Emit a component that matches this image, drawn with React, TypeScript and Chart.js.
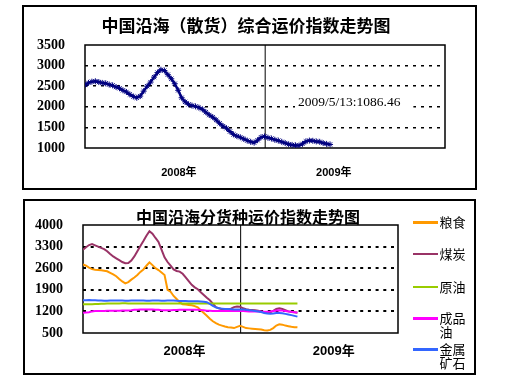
import React, { useEffect, useRef } from "react";
import { Chart, registerables } from "chart.js";

Chart.register(...registerables);

// ---------- text ----------
const compositeTitle = "中国沿海（散货）综合运价指数走势图";
const cargoTitle = "中国沿海分货种运价指数走势图";
const yearLabels = ["2008年", "2009年"];
const annotationText = "2009/5/13:1086.46";
const compositeName = "综合运价指数";
const seriesNames = ["粮食", "煤炭", "原油", "成品油", "金属矿石"];
const legendLines = [["粮食"], ["煤炭"], ["原油"], ["成品", "油"], ["金属", "矿石"]];

// ---------- axes (weeks since start of 2008) ----------
const weekSpan = 104.3;
const yearDividerWeek = 52.2;
const compositeYearTickWeeks = [27.2, 72.1];
const cargoYearTickWeeks = [33.6, 83.0];
const compositeYTicks = [1000, 1500, 2000, 2500, 3000, 3500];
const cargoYTicks = [500, 1200, 1900, 2600, 3300, 4000];

// ---------- weekly values ----------
const compositeIndex = [
  2530, 2580, 2610, 2620, 2600, 2580, 2570, 2540, 2520, 2480,
  2450, 2400, 2360, 2300, 2250, 2220, 2260, 2380, 2500, 2600,
  2720, 2830, 2900, 2880, 2780, 2680, 2560, 2400, 2220, 2120,
  2060, 2030, 2010, 1980, 1940, 1870, 1800, 1750, 1680, 1600,
  1530, 1480, 1400, 1330, 1290, 1260, 1220, 1180, 1150, 1130,
  1190, 1260, 1280, 1250, 1230, 1200, 1180, 1150, 1120, 1090,
  1075, 1065, 1060, 1100, 1160, 1180, 1175, 1160, 1150, 1120,
  1100, 1086,
];

const grain = [
  2720, 2680, 2620, 2570, 2550, 2540, 2530, 2520, 2500, 2450,
  2400, 2340, 2250, 2170, 2110, 2150, 2230, 2300, 2380, 2480,
  2560, 2680, 2790, 2700, 2600, 2540, 2460, 2380, 1900, 1840,
  1700, 1600, 1500, 1430, 1420, 1410, 1400, 1370, 1330, 1240,
  1150, 1060, 960, 880, 820, 770, 740, 710, 690, 680,
  660, 700, 730, 700, 660, 650, 640, 630, 620, 610,
  590, 580, 600, 660, 740, 780, 770, 740, 720, 700,
  690, 685,
];

const coal = [
  3200, 3280, 3350, 3380, 3340, 3300, 3260, 3220, 3150, 3060,
  2980, 2920, 2860, 2800, 2760, 2770, 2850, 2980, 3150, 3320,
  3480, 3650, 3800, 3720, 3580, 3450, 3200, 2950, 2800, 2680,
  2560, 2510, 2490, 2420, 2300, 2180, 2060, 1980, 1920, 1820,
  1730, 1640, 1560, 1450, 1340, 1300, 1270, 1265, 1260, 1290,
  1340, 1360, 1350, 1300, 1270, 1255, 1245, 1235, 1220, 1190,
  1170, 1160, 1170, 1220, 1280, 1300, 1280, 1240, 1200, 1180,
  1170, 1160,
];

const crudeOil = [
  1430, 1430, 1435, 1435, 1440, 1440, 1445, 1450, 1455, 1460,
  1460, 1460, 1460, 1465, 1465, 1460, 1460, 1460, 1460, 1460,
  1460, 1460, 1460, 1460, 1460, 1460, 1460, 1460, 1460, 1460,
  1460, 1460, 1460, 1460, 1460, 1460, 1460, 1460, 1460, 1460,
  1460, 1460, 1460, 1460, 1460, 1460, 1460, 1460, 1460, 1460,
  1460, 1460, 1460, 1460, 1460, 1460, 1460, 1460, 1460, 1460,
  1460, 1460, 1460, 1460, 1460, 1460, 1460, 1460, 1460, 1460,
  1460, 1460,
];

const refinedOil = [
  1160, 1165, 1170, 1200, 1210, 1215, 1215, 1215, 1220, 1220,
  1225, 1225, 1225, 1230, 1230, 1230, 1235, 1250, 1255, 1260,
  1260, 1260, 1260, 1260, 1255, 1250, 1240, 1240, 1240, 1240,
  1245, 1245, 1250, 1250, 1250, 1250, 1250, 1250, 1250, 1245,
  1235, 1225, 1220, 1215, 1215, 1215, 1215, 1215, 1215, 1215,
  1215, 1215, 1215, 1210, 1205, 1200, 1200, 1195, 1195, 1195,
  1190, 1190, 1195, 1210, 1230, 1240, 1225, 1210, 1200, 1190,
  1175, 1165,
];

const metalOre = [
  1560, 1565, 1570, 1565, 1560, 1555, 1550, 1545, 1545, 1550,
  1555, 1555, 1550, 1550, 1545, 1545, 1550, 1555, 1555, 1550,
  1550, 1545, 1545, 1550, 1555, 1550, 1545, 1545, 1550, 1555,
  1550, 1545, 1540, 1540, 1535, 1530, 1530, 1525, 1525, 1520,
  1515, 1500, 1440, 1380, 1330, 1300, 1290, 1280, 1275, 1270,
  1265, 1265, 1265, 1260, 1250, 1240, 1230, 1215, 1200, 1180,
  1150, 1130, 1120, 1130, 1145, 1150, 1140, 1120, 1100, 1080,
  1055, 1030,
];

const cargoSeries = [grain, coal, crudeOil, refinedOil, metalOre];
const seriesColors = ["#FF9900", "#993366", "#99CC00", "#FF00FF", "#3366FF"];
const compositeColor = "#000080";

// ---------- helpers ----------
const toPoints = (values: number[]) => values.map((v, i) => ({ x: i, y: v }));

const plotFrame = {
  id: "plotFrame",
  beforeDatasetsDraw(chart: any) {
    const { ctx, chartArea: a } = chart;
    ctx.save();
    ctx.strokeStyle = "#000";
    ctx.lineWidth = 1.5;
    ctx.strokeRect(a.left, a.top, a.right - a.left, a.bottom - a.top);
    ctx.restore();
  },
};

const dateLabel = {
  id: "dateLabel",
  afterDatasetsDraw(chart: any) {
    const { ctx, chartArea: a } = chart;
    ctx.save();
    ctx.font = '13.5px "Liberation Serif", serif';
    const w = ctx.measureText(annotationText).width;
    const x = a.left + 213;
    const y = a.top + 57;
    ctx.fillStyle = "#fff";
    ctx.fillRect(x - 3, y - 9, w + 16, 18);
    ctx.fillStyle = "#000";
    ctx.textBaseline = "middle";
    ctx.fillText(annotationText, x, y);
    ctx.restore();
  },
};

function yAxis(ticksArr: number[], width: number, dash: number[], lineWidth: number) {
  return {
    type: "linear",
    min: ticksArr[0],
    max: ticksArr[ticksArr.length - 1],
    afterBuildTicks: (s: any) => {
      s.ticks = ticksArr.map((v) => ({ value: v }));
    },
    afterFit: (s: any) => {
      s.width = width;
    },
    ticks: {
      padding: 20,
      color: "#000",
      font: { family: '"Liberation Serif", serif', size: 14, weight: "bold" },
      callback: (v: any) => String(v),
    },
    grid: {
      drawTicks: false,
      lineWidth,
      color: (c: any) =>
        c.tick && (c.tick.value === ticksArr[0] || c.tick.value === ticksArr[ticksArr.length - 1])
          ? "rgba(0,0,0,0)"
          : "#000",
    },
    border: { display: false, dash },
  };
}

function spacer(width: number) {
  return {
    type: "linear",
    position: "right",
    display: true,
    grid: { display: false, drawTicks: false },
    ticks: { display: false },
    border: { display: false },
    afterFit: (s: any) => {
      s.width = width;
    },
  };
}

function xAxis(tickWeeks: number[], height: number, pad: number, fontSize: number) {
  return {
    type: "linear",
    min: 0,
    max: weekSpan,
    afterBuildTicks: (s: any) => {
      s.ticks = tickWeeks.map((v) => ({ value: v }));
    },
    afterFit: (s: any) => {
      s.height = height;
    },
    ticks: {
      padding: pad,
      autoSkip: false,
      maxRotation: 0,
      color: "#000",
      font: { family: '"Liberation Sans", "Noto Sans CJK SC", sans-serif', size: fontSize, weight: "bold" },
      callback: (_v: any, i: number) => yearLabels[i],
    },
    grid: { display: false, drawTicks: false },
    border: { display: false },
  };
}

const legendY = [222, 253.5, 286.5, 318, 349];

export default function App() {
  const topRef = useRef<HTMLCanvasElement>(null);
  const bottomRef = useRef<HTMLCanvasElement>(null);

  useEffect(() => {
    const top = new Chart(topRef.current as HTMLCanvasElement, {
      type: "line",
      data: {
        datasets: [
          {
            label: compositeName,
            data: toPoints(compositeIndex),
            borderColor: compositeColor,
            backgroundColor: compositeColor,
            borderWidth: 2.5,
            pointStyle: "star",
            pointRadius: 3,
            pointBorderWidth: 1,
            pointBorderColor: compositeColor,
            tension: 0,
            order: 1,
          },
          {
            label: "divider",
            data: [
              { x: yearDividerWeek, y: compositeYTicks[0] },
              { x: yearDividerWeek, y: compositeYTicks[compositeYTicks.length - 1] },
            ],
            borderColor: "#000",
            borderWidth: 1,
            pointRadius: 0,
            order: 10,
          },
        ],
      } as any,
      options: {
        responsive: false,
        animation: false,
        layout: { padding: { left: 0, right: 20, top: 0, bottom: 0 } },
        plugins: {
          legend: { display: false },
          tooltip: { enabled: false },
          title: {
            display: true,
            text: compositeTitle,
            color: "#000",
            font: { family: '"Noto Sans CJK SC", sans-serif', size: 17, weight: "bold", lineHeight: 1.2 },
            padding: { top: 15.6, bottom: 9 },
          },
        },
        scales: {
          x: xAxis(compositeYearTickWeeks, 44, 18, 11),
          y: yAxis(compositeYTicks, 85, [3, 5], 1.5),
          rightSpace: spacer(47),
        },
      } as any,
      plugins: [plotFrame, dateLabel],
    });

    const bottom = new Chart(bottomRef.current as HTMLCanvasElement, {
      type: "line",
      data: {
        datasets: [
          ...cargoSeries.map((vals, i) => ({
            label: seriesNames[i],
            data: toPoints(vals),
            borderColor: seriesColors[i],
            backgroundColor: seriesColors[i],
            borderWidth: 2,
            pointRadius: 0,
            tension: 0,
            order: 5 - i,
          })),
          {
            label: "divider",
            data: [
              { x: yearDividerWeek, y: cargoYTicks[0] },
              { x: yearDividerWeek, y: cargoYTicks[cargoYTicks.length - 1] },
            ],
            borderColor: "#000",
            borderWidth: 1,
            pointRadius: 0,
            order: 10,
          },
        ],
      } as any,
      options: {
        responsive: false,
        animation: false,
        layout: { padding: { left: 0, right: 16, top: 0, bottom: 0 } },
        plugins: {
          legend: { display: false },
          tooltip: { enabled: false },
          title: {
            display: true,
            text: cargoTitle,
            color: "#000",
            font: { family: '"Noto Sans CJK SC", sans-serif', size: 16, weight: "bold", lineHeight: 1.0 },
            padding: { top: 16.7, bottom: 0.3 },
          },
        },
        scales: {
          x: xAxis(cargoYearTickWeeks, 51, 11, 13),
          y: yAxis(cargoYTicks, 83, [3, 4.7], 2),
          legendSpace: spacer(98),
        },
      } as any,
      plugins: [plotFrame],
    });

    return () => {
      top.destroy();
      bottom.destroy();
    };
  }, []);

  return (
    <div
      style={{
        position: "absolute",
        left: 0,
        top: 0,
        width: 512,
        height: 384,
        background: "#fff",
        overflow: "hidden",
      }}
    >
      <div
        style={{
          position: "absolute",
          left: 22,
          top: 5,
          width: 455,
          height: 185,
          border: "2px solid #000",
          boxSizing: "border-box",
        }}
      />
      <div
        style={{
          position: "absolute",
          left: 23,
          top: 199,
          width: 453,
          height: 176,
          border: "2px solid #000",
          boxSizing: "border-box",
        }}
      />
      <canvas ref={topRef} width={512} height={192} style={{ position: "absolute", left: 0, top: 0 }} />
      <canvas ref={bottomRef} width={512} height={192} style={{ position: "absolute", left: 0, top: 192 }} />
      {legendLines.map((lines, i) => (
        <div key={i} style={{ position: "absolute", left: 0, top: legendY[i] - 7, width: 512 }}>
          <div
            style={{
              position: "absolute",
              left: 413,
              top: 6,
              width: 25,
              height: 2.5,
              background: seriesColors[i],
            }}
          />
          <div
            style={{
              position: "absolute",
              left: 439.5,
              top: 0,
              fontFamily: '"Noto Sans CJK SC", sans-serif',
              fontSize: 13,
              lineHeight: "13.5px",
              color: "#000",
              whiteSpace: "nowrap",
            }}
          >
            {lines.map((l, j) => (
              <div key={j}>{l}</div>
            ))}
          </div>
        </div>
      ))}
    </div>
  );
}
